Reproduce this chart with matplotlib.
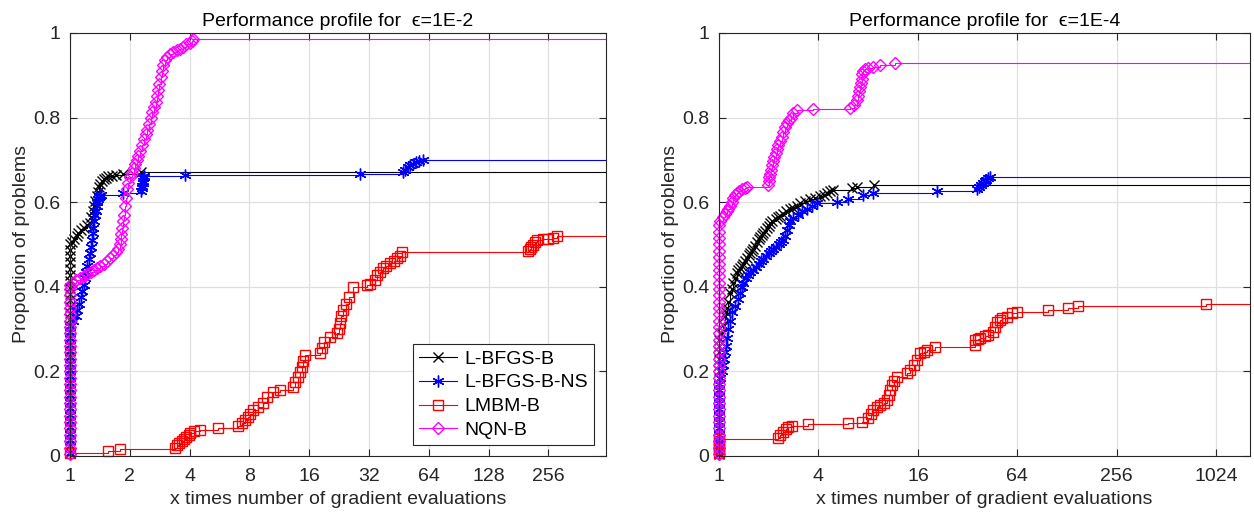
import matplotlib
matplotlib.use('Agg')
import matplotlib.pyplot as plt
from matplotlib.lines import Line2D
from matplotlib.ticker import NullLocator

plt.rcParams['font.family'] = ['Liberation Sans', 'DejaVu Sans']

solvers = ['L-BFGS-B', 'L-BFGS-B-NS', 'LMBM-B', 'NQN-B']
colors = ['#000000', '#0000ff', '#ff0000', '#ff00ff']
markers = ['x', (6, 2, 0), 's', 'D']
msizes = [6.5, 8.5, 6.5, 6.3]

# ---- eps = 1E-2 ----
# rho values of the problems solved at tau = 1 (vertical band)
blk2_band = [0.008, 0.023, 0.038, 0.053, 0.068, 0.083, 0.098, 0.113, 0.128, 0.143, 0.158, 0.173,
             0.188, 0.203, 0.218, 0.233, 0.248, 0.263, 0.278, 0.293, 0.308, 0.323, 0.338, 0.353,
             0.368, 0.383, 0.398, 0.413, 0.428, 0.443, 0.458, 0.473, 0.488, 0.50]
blk2_tau = [1.02, 1.05, 1.08, 1.10, 1.13, 1.17, 1.22, 1.26, 1.28, 1.30, 1.32, 1.34, 1.36, 1.38,
            1.40, 1.42, 1.45, 1.48, 1.52, 1.56, 1.62, 1.70, 1.85, 2.28]
blk2_rho = [0.505, 0.512, 0.52, 0.528, 0.535, 0.54, 0.545, 0.55, 0.565, 0.58, 0.592, 0.603, 0.615,
            0.625, 0.635, 0.643, 0.65, 0.655, 0.658, 0.661, 0.663, 0.665, 0.667, 0.672]

blu2_band = [0.008, 0.023, 0.038, 0.053, 0.068, 0.083, 0.098, 0.113, 0.128, 0.143, 0.158, 0.173,
             0.188, 0.203, 0.218, 0.233, 0.248, 0.263, 0.278, 0.293, 0.308]
blu2_tau = [1.04, 1.07, 1.09, 1.11, 1.13, 1.15, 1.17, 1.19, 1.21, 1.22, 1.24, 1.26, 1.28, 1.29,
            1.30, 1.31, 1.32, 1.336, 1.35, 1.36, 1.37, 1.383, 1.40, 1.416, 1.44, 1.85, 2.28, 2.30,
            2.31, 2.32, 2.33, 2.34, 2.35, 2.36, 3.79, 28.8, 47.3, 48.5, 50, 51.5, 53, 55, 57, 59.7]
blu2_rho = [0.32, 0.33, 0.345, 0.36, 0.375, 0.39, 0.405, 0.42, 0.435, 0.45, 0.465, 0.48, 0.495,
            0.51, 0.527, 0.54, 0.555, 0.57, 0.58, 0.59, 0.60, 0.607, 0.612, 0.615, 0.618, 0.621,
            0.627, 0.633, 0.639, 0.645, 0.651, 0.656, 0.66, 0.663, 0.664, 0.667, 0.672, 0.677,
            0.682, 0.687, 0.691, 0.695, 0.698, 0.70]

red2_band = []
red2_tau = [1.0, 1.55, 1.785, 3.38, 3.45, 3.55, 3.65, 3.75, 3.85, 3.95, 4.02, 4.2, 4.51, 5.56,
            7.01, 7.3, 7.6, 7.87, 8.1, 8.34, 8.8, 9.37, 9.81, 10.52, 11.41, 13.26, 13.57, 14.0,
            14.4, 14.72, 14.89, 15.2, 18.14, 18.5, 19.0, 20.37, 22.08, 22.5, 22.87, 23.2, 23.67,
            24.5, 25.5, 26.58, 31.27, 32.5, 34.3, 35.2, 36.4, 37.6, 39.0, 40.8, 42.5, 44.0, 45.8,
            46.9, 202, 206, 210, 214, 218, 224, 240, 255, 270, 283]
red2_rho = [0.008, 0.012, 0.016, 0.02, 0.025, 0.03, 0.035, 0.04, 0.045, 0.05, 0.055, 0.058, 0.061,
            0.066, 0.071, 0.077, 0.085, 0.092, 0.10, 0.108, 0.116, 0.125, 0.14, 0.152, 0.157,
            0.163, 0.175, 0.187, 0.198, 0.21, 0.225, 0.238, 0.243, 0.255, 0.27, 0.282, 0.29, 0.30,
            0.315, 0.33, 0.345, 0.36, 0.375, 0.40, 0.404, 0.406, 0.415, 0.428, 0.436, 0.444, 0.45,
            0.456, 0.462, 0.467, 0.472, 0.482, 0.485, 0.49, 0.495, 0.499, 0.505, 0.51, 0.512,
            0.514, 0.516, 0.52]

mag2_band = [0.005, 0.02, 0.035, 0.05, 0.065, 0.08, 0.095, 0.11, 0.125, 0.14, 0.155, 0.17, 0.185,
             0.2, 0.215, 0.23, 0.245, 0.26, 0.275, 0.29, 0.305, 0.32, 0.335, 0.35, 0.365, 0.38,
             0.395, 0.405]
mag2_tau = [1.03, 1.07, 1.12, 1.17, 1.22, 1.27, 1.32, 1.37, 1.42, 1.48, 1.54, 1.59, 1.64, 1.70,
            1.75, 1.785, 1.80, 1.815, 1.83, 1.85, 1.87, 1.89, 1.91, 1.937, 1.97, 2.01, 2.05, 2.09,
            2.13, 2.17, 2.21, 2.25, 2.30, 2.35, 2.40, 2.44, 2.49, 2.55, 2.60, 2.65, 2.70, 2.74,
            2.78, 2.82, 2.86, 2.90, 2.94, 3.0, 3.08, 3.19, 3.3, 3.45, 3.57, 3.72, 3.85, 4.0, 4.1,
            4.16]
mag2_rho = [0.41, 0.415, 0.42, 0.425, 0.43, 0.435, 0.44, 0.445, 0.45, 0.455, 0.462, 0.468, 0.475,
            0.482, 0.49, 0.50, 0.512, 0.525, 0.54, 0.555, 0.57, 0.59, 0.61, 0.63, 0.645, 0.66,
            0.67, 0.68, 0.69, 0.70, 0.71, 0.72, 0.735, 0.75, 0.76, 0.77, 0.785, 0.80, 0.812,
            0.825, 0.837, 0.85, 0.865, 0.88, 0.895, 0.91, 0.925, 0.935, 0.943, 0.95, 0.955, 0.96,
            0.963, 0.968, 0.973, 0.977, 0.981, 0.985]

# ---- eps = 1E-4 ----
blk4_band = [0.005, 0.02, 0.035, 0.05, 0.065, 0.08, 0.095, 0.11, 0.125, 0.14, 0.155, 0.17, 0.185,
             0.2, 0.215, 0.23, 0.245, 0.26, 0.275]
blk4_tau = [1.03, 1.06, 1.087, 1.10, 1.118, 1.14, 1.166, 1.19, 1.22, 1.25, 1.285, 1.31, 1.34,
            1.37, 1.40, 1.44, 1.48, 1.51, 1.55, 1.58, 1.61, 1.65, 1.70, 1.74, 1.77, 1.81, 1.85,
            1.90, 1.95, 2.0, 2.04, 2.1, 2.2, 2.27, 2.34, 2.45, 2.55, 2.68, 2.81, 2.95, 3.1, 3.3,
            3.56, 3.8, 4.09, 4.3, 4.5, 4.7, 4.9, 6.4, 6.85, 8.7]
blk4_rho = [0.29, 0.31, 0.33, 0.34, 0.35, 0.365, 0.385, 0.395, 0.41, 0.42, 0.432, 0.44, 0.445,
            0.45, 0.455, 0.462, 0.468, 0.474, 0.48, 0.485, 0.49, 0.497, 0.505, 0.512, 0.518,
            0.523, 0.528, 0.533, 0.538, 0.544, 0.55, 0.555, 0.56, 0.564, 0.568, 0.573, 0.578,
            0.583, 0.587, 0.592, 0.597, 0.602, 0.607, 0.61, 0.614, 0.618, 0.622, 0.626, 0.629,
            0.633, 0.636, 0.641]

blu4_band = [0.005, 0.02, 0.035, 0.05, 0.065, 0.08, 0.095, 0.11, 0.125, 0.14, 0.155, 0.17]
blu4_tau = [1.02, 1.035, 1.05, 1.065, 1.08, 1.095, 1.118, 1.14, 1.166, 1.2, 1.25, 1.3, 1.34,
            1.37, 1.40, 1.45, 1.5, 1.55, 1.61, 1.68, 1.75, 1.8, 1.85, 1.92, 2.0, 2.06, 2.12, 2.2,
            2.3, 2.37, 2.44, 2.5, 2.58, 2.64, 2.69, 2.8, 3.0, 3.2, 3.41, 3.65, 3.92, 5.18, 6.04,
            7.45, 8.57, 20.9, 36.6, 37.5, 38.5, 39.5, 40.5, 41.5, 42.5, 43.8]
blu4_rho = [0.185, 0.2, 0.215, 0.23, 0.245, 0.26, 0.28, 0.30, 0.32, 0.34, 0.355, 0.37, 0.385,
            0.40, 0.41, 0.42, 0.428, 0.435, 0.44, 0.447, 0.455, 0.46, 0.466, 0.473, 0.48, 0.485,
            0.49, 0.495, 0.50, 0.505, 0.51, 0.52, 0.534, 0.545, 0.555, 0.563, 0.57, 0.578, 0.585,
            0.592, 0.597, 0.60, 0.608, 0.617, 0.622, 0.627, 0.631, 0.636, 0.641, 0.645, 0.649,
            0.653, 0.657, 0.66]

red4_band = [0.008, 0.016, 0.024, 0.032, 0.04]
red4_tau = [2.28, 2.35, 2.44, 2.53, 2.62, 2.77, 3.46, 6.04, 7.35, 7.99, 8.3, 8.57, 9.0, 9.44,
            10.0, 10.41, 10.7, 10.86, 11.17, 11.5, 11.97, 13.76, 14.35, 15.1, 15.82, 16.5, 17.3,
            18.19, 20.34, 35.5, 35.6, 36.8, 38.1, 40.5, 42.6, 45.7, 47.0, 48.3, 50.0, 51.8, 55.5,
            59.5, 63.8, 98.4, 130, 149, 891]
red4_rho = [0.043, 0.05, 0.057, 0.063, 0.069, 0.072, 0.076, 0.078, 0.08, 0.09, 0.10, 0.109,
            0.115, 0.12, 0.126, 0.132, 0.145, 0.156, 0.168, 0.178, 0.187, 0.196, 0.203, 0.215,
            0.227, 0.243, 0.247, 0.25, 0.258, 0.262, 0.274, 0.277, 0.279, 0.283, 0.286, 0.293,
            0.305, 0.317, 0.322, 0.326, 0.329, 0.338, 0.341, 0.345, 0.35, 0.355, 0.359]

mag4_band = [0.005, 0.02, 0.035, 0.05, 0.065, 0.08, 0.095, 0.11, 0.125, 0.14, 0.155, 0.17, 0.185,
             0.2, 0.215, 0.23, 0.245, 0.26, 0.275, 0.29, 0.305, 0.32, 0.335, 0.35, 0.365, 0.38,
             0.395, 0.41, 0.425, 0.44, 0.455, 0.47, 0.485, 0.5, 0.515, 0.53, 0.545]
mag4_tau = [1.02, 1.05, 1.08, 1.118, 1.14, 1.16, 1.19, 1.216, 1.25, 1.285, 1.33, 1.38, 1.43,
            1.478, 1.98, 2.0, 2.02, 2.04, 2.07, 2.1, 2.13, 2.16, 2.2, 2.245, 2.29, 2.34, 2.4, 2.45,
            2.52, 2.58, 2.65, 2.72, 2.81, 2.97, 3.71, 6.22, 6.6, 6.85, 6.95, 7.05, 7.14, 7.22, 7.3,
            7.38, 7.45, 7.6, 8.0, 8.57, 9.43, 11.66]
mag4_rho = [0.555, 0.565, 0.572, 0.578, 0.585, 0.592, 0.60, 0.61, 0.617, 0.622, 0.626, 0.63,
            0.633, 0.636, 0.64, 0.65, 0.66, 0.667, 0.677, 0.687, 0.697, 0.707, 0.716, 0.725,
            0.735, 0.745, 0.755, 0.765, 0.778, 0.787, 0.795, 0.80, 0.81, 0.818, 0.82, 0.822, 0.83,
            0.841, 0.852, 0.862, 0.872, 0.882, 0.892, 0.902, 0.91, 0.914, 0.918, 0.92, 0.924, 0.93]

panels = [
    {'title': 'Performance profile for  ϵ=1E-2', 'xmax': 499,
     'xticks': [1, 2, 4, 8, 16, 32, 64, 128, 256],
     'curves': [(blk2_band, blk2_tau, blk2_rho), (blu2_band, blu2_tau, blu2_rho),
                (red2_band, red2_tau, red2_rho), (mag2_band, mag2_tau, mag2_rho)]},
    {'title': 'Performance profile for  ϵ=1E-4', 'xmax': 1640,
     'xticks': [1, 4, 16, 64, 256, 1024],
     'curves': [(blk4_band, blk4_tau, blk4_rho), (blu4_band, blu4_tau, blu4_rho),
                (red4_band, red4_tau, red4_rho), (mag4_band, mag4_tau, mag4_rho)]},
]
yticks = [0, 0.2, 0.4, 0.6, 0.8, 1]
ytick_labels = ['0', '0.2', '0.4', '0.6', '0.8', '1']

dark = '#262626'
fig = plt.figure(figsize=(12.54, 5.12), dpi=100)
positions = [[0.0558, 0.1094, 0.4275, 0.8262], [0.5734, 0.1094, 0.4234, 0.8262]]

for k, p in enumerate(panels):
    ax = fig.add_axes(positions[k])
    handles = []
    for (band, tau, rho), name, c, m, ms in zip(p['curves'], solvers, colors, markers, msizes):
        x = [1.0] * len(band) + tau
        y = band + rho
        # stair line, carried on to the right edge
        ax.plot(x + [p['xmax'] * 4], y + [y[-1]], drawstyle='steps-post', color=c, lw=0.8)
        # markers are not cut at the axes edge (as in MATLAB)
        ax.plot(x, y, ls='none', marker=m, ms=ms, mfc='none', mec=c, mew=1.0, clip_on=False)
        handles.append(Line2D([], [], color=c, lw=0.8, marker=m, ms=ms, mfc='none', mec=c,
                              mew=1.0, label=name))
    ax.set_xscale('log', base=2)
    ax.set_xlim(1, p['xmax'])
    ax.set_ylim(0, 1)
    ax.set_xticks(p['xticks'])
    ax.set_xticklabels([str(t) for t in p['xticks']])
    ax.xaxis.set_minor_locator(NullLocator())
    ax.set_yticks(yticks)
    ax.set_yticklabels(ytick_labels)
    ax.grid(True, color='#e0e0e0', lw=0.9)
    ax.set_axisbelow(True)
    ax.tick_params(direction='in', top=True, right=True, length=5, width=0.8,
                   colors=dark, labelsize=14)
    ax.tick_params(axis='x', pad=9)
    ax.tick_params(axis='y', pad=7)
    for s in ax.spines.values():
        s.set_color(dark)
        s.set_linewidth(0.8)
    ax.set_title(p['title'], fontsize=14, color='black', pad=5)
    ax.set_xlabel('x times number of gradient evaluations', fontsize=14, color=dark, labelpad=4)
    ax.set_ylabel('Proportion of problems', fontsize=14, color=dark, labelpad=2)
    if k == 0:
        leg = ax.legend(handles=handles, loc='lower right', bbox_to_anchor=(0.977, 0.026),
                        borderaxespad=0, fontsize=14, fancybox=False, framealpha=1,
                        edgecolor=dark, handlelength=2.0, labelspacing=0.32, borderpad=0.3,
                        handletextpad=0.35)
        leg.get_frame().set_linewidth(0.8)
        leg.set_zorder(5)

fig.savefig('out.png', dpi=100)
